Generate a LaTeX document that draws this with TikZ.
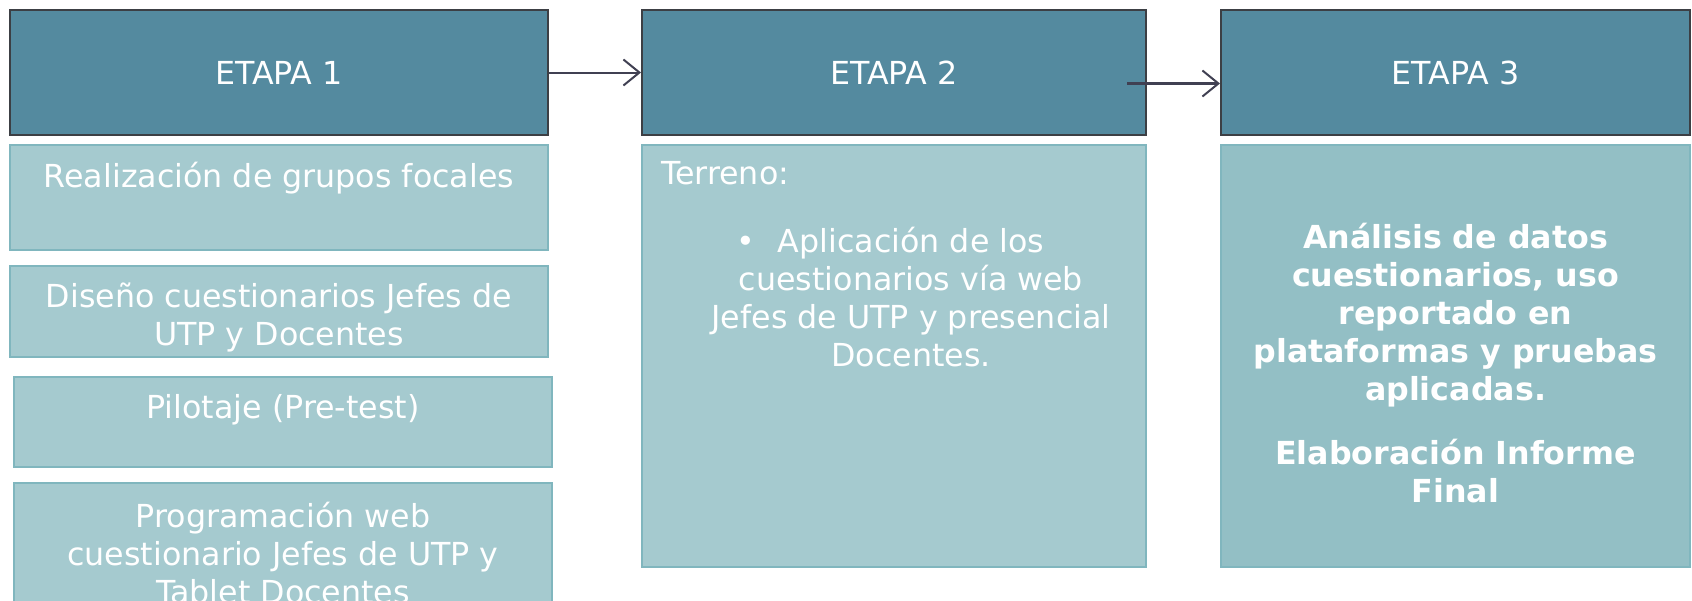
\documentclass[tikz,border=0pt]{standalone}
\usepackage{fontspec}
\setmainfont{DejaVu Sans}
\usetikzlibrary{arrows.meta}
\definecolor{headfill}{HTML}{548A9F}
\definecolor{headline}{HTML}{3C3F44}
\definecolor{taskfill}{HTML}{A5CACF}
\definecolor{taskline}{HTML}{80B6BE}
\definecolor{sumfill}{HTML}{93BFC5}
\definecolor{arrowcol}{HTML}{404052}

\begin{document}
\begin{tikzpicture}[x=1pt,y=-1pt,font=\fontsize{31.7}{38}\selectfont,
  head/.style={draw=headline,line width=2pt,fill=headfill,text=white,anchor=north west,inner sep=0pt},
  task/.style={draw=taskline,line width=2pt,fill=taskfill,anchor=north west,inner sep=0pt},
  txt/.style={text=white,anchor=north,inner sep=0pt,align=center},
  flow/.style={draw=arrowcol,line width=2pt,-{Straight Barb[length=16pt,width=26pt,line width=2pt]}}]
\clip (0,0) rectangle (1692,600);
% headers
\node[head,minimum width=538pt,minimum height=125pt] (e1) at (9,9) {ETAPA 1};
\node[head,minimum width=504pt,minimum height=125pt] (e2) at (641,9) {ETAPA 2};
\node[head,minimum width=469pt,minimum height=125pt] (e3) at (1220,9) {ETAPA 3};
% etapa 1
\node[task,minimum width=538pt,minimum height=105pt] (r1) at (9,144) {};
\node[task,minimum width=538pt,minimum height=91pt] (r2) at (9,265) {};
\node[task,minimum width=538pt,minimum height=90pt] (r3) at (13,376) {};
\node[task,minimum width=538pt,minimum height=160pt] (r4) at (13,482) {};
\node[txt] (r1t) at ([yshift=-18pt]r1.north) {Realización de grupos focales};
\node[txt] (r2t) at ([yshift=-18pt]r2.north) {Diseño cuestionarios Jefes de\\UTP y Docentes};
\node[txt] (r3t) at ([yshift=-18pt]r3.north) {Pilotaje (Pre-test)};
\node[txt] (r4t) at ([yshift=-20pt]r4.north) {Programación web\\cuestionario Jefes de UTP y\\Tablet Docentes};
% etapa 2
\node[task,minimum width=504pt,minimum height=422pt] (b2) at (641,144) {};
\node[txt,anchor=north west] (t2) at ([xshift=20pt,yshift=-17pt]b2.north west) {Terreno:};
\node[txt] (l2) at ([xshift=17pt,yshift=-83pt]b2.north) {\llap{•\hspace{23pt}}Aplicación de los\\cuestionarios vía web\\Jefes de UTP y presencial\\Docentes.};
% etapa 3
\node[task,fill=sumfill,minimum width=469pt,minimum height=422pt] (b3) at (1220,144) {};
\node[txt,font=\fontsize{31.7}{38}\selectfont\bfseries] (s3) at ([yshift=-79pt]b3.north) {Análisis de datos\\cuestionarios, uso\\reportado en\\plataformas y pruebas\\aplicadas.\\[26pt]Elaboración Informe\\Final};
% arrows
\coordinate (a2) at ([xshift=-20pt,yshift=-11pt]e2.east);
\draw[flow] (e1) -- (e2);
\draw[flow,line width=3pt] (a2) -- (a2 -| e3.west);
\end{tikzpicture}
\end{document}
